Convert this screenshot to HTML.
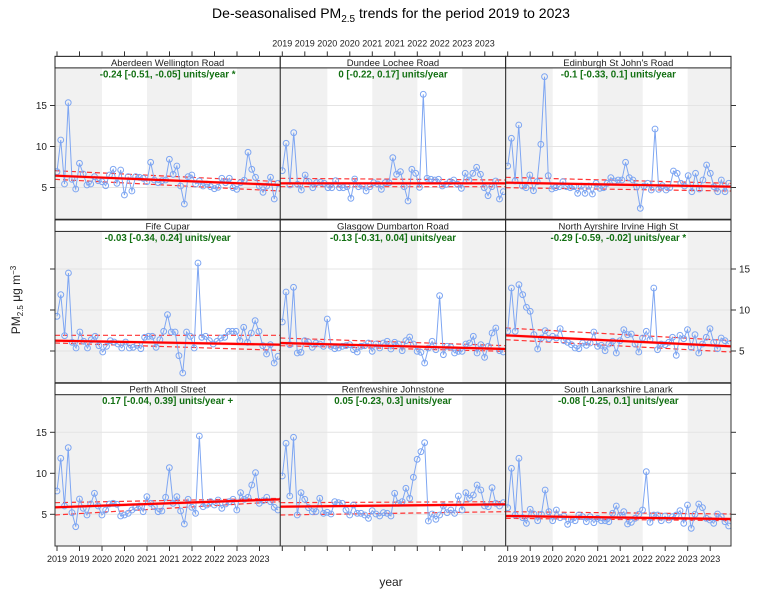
<!DOCTYPE html>
<html><head><meta charset="utf-8"><style>
html,body{margin:0;padding:0;background:#fff;}
svg{display:block;font-family:"Liberation Sans",sans-serif;}
</style></head><body>
<svg id="s" width="770" height="600" xmlns="http://www.w3.org/2000/svg"></svg>
<script>
const S=document.getElementById('s');let h='';
const colL=[55,280.3,505.7],colR=[280.3,505.7,731];
const rowZero=[228.5,392,555.3];
const names=[["Aberdeen Wellington Road","-0.24 [-0.51, -0.05] units/year *"],["Dundee Lochee Road","0 [-0.22, 0.17] units/year"],["Edinburgh St John's Road","-0.1 [-0.33, 0.1] units/year"],
["Fife Cupar","-0.03 [-0.34, 0.24] units/year"],["Glasgow Dumbarton Road","-0.13 [-0.31, 0.04] units/year"],["North Ayrshire Irvine High St","-0.29 [-0.59, -0.02] units/year *"],
["Perth Atholl Street","0.17 [-0.04, 0.39] units/year +"],["Renfrewshire Johnstone","0.05 [-0.23, 0.3] units/year"],["South Lanarkshire Lanark","-0.08 [-0.25, 0.1] units/year"]];
const D=[
[30,[425,330,462,218,448,477,400,432,465,462,440,452,455,467,435,418,460,420,495,440,483,440,442,445,455,397,450,458,452,450,388,433,408,468,522,440,435,462,453,468,462,470,476,472,445,458,445,473,478,458,451,367,418,442,468,487,468,442,507,460]],
[55,[347,265,390,233,388,405,360,380,398,383,382,385,398,398,377,398,398,395,430,372,395,393,408,395,383,387,403,383,383,308,358,350,395,438,343,355,397,118,370,373,375,373,393,388,380,375,388,400,355,375,355,337,358,398,422,395,378,432,410]],
[55,[333,250,378,210,393,398,360,407,380,268,65,362,402,398,395,380,395,398,395,415,393,415,393,417,385,400,398,385,368,378,375,375,322,368,375,395,460,393,385,405,222,403,392,405,398,348,355,385,393,362,410,355,402,375,330,355,395,410,375,410,385]],
[218,[295,230,353,165,373,390,342,370,390,365,355,383,402,385,368,372,378,390,372,390,388,382,392,358,355,355,388,365,340,290,342,342,413,465,342,355,390,135,358,355,368,378,370,360,358,340,340,340,368,328,373,345,308,340,383,408,380,435,415]],
[218,[312,222,380,208,405,403,368,372,388,375,378,385,303,385,392,390,385,383,380,395,402,385,383,375,400,378,390,375,370,393,373,378,398,368,357,378,400,403,435,390,370,395,233,410,385,387,405,400,400,378,375,355,405,380,418,385,345,330,398,402]],
[218,[340,210,340,200,230,268,280,350,393,360,338,362,355,360,332,368,373,380,390,392,375,382,375,342,385,382,398,378,370,405,368,335,350,348,378,402,360,340,365,210,395,378,380,373,358,412,352,362,335,388,350,405,378,358,332,373,392,360,368,378]],
[380,[333,235,378,203,398,440,357,385,405,372,340,378,405,390,372,370,373,408,405,400,390,383,378,395,350,370,380,395,393,352,263,370,350,393,432,358,382,400,168,380,375,365,375,360,385,372,365,358,390,338,358,352,315,278,370,362,352,365,382,390]],
[380,[288,190,348,172,405,338,358,383,395,395,355,400,397,402,365,368,370,390,405,375,400,400,405,415,392,402,408,398,400,408,340,370,365,325,355,292,238,215,188,423,402,418,405,378,398,390,400,348,390,338,355,345,315,330,378,380,323,370,378,368]],
[360,[443,325,465,295,473,490,448,462,482,463,390,455,482,450,473,468,493,478,482,465,470,485,470,488,475,482,482,485,460,438,468,455,492,487,475,463,450,335,487,465,465,482,468,480,470,465,452,490,435,505,463,432,443,475,480,490,462,470,485,498]]];
const T=[[30,437,465,422,455,448,483],[55,385,385,370,375,395,395],[55,383,395,367,385,398,408],
[218,368,380,352,352,375,397],[218,375,393,360,383,383,400],[218,352,385,330,368,365,402],
[380,382,358,368,355,405,365],[380,380,373,368,365,405,395],[360,468,477,455,462,475,482]];
h+=`<text x="391" y="18" font-size="14" text-anchor="middle">De-seasonalised PM<tspan font-size="10" dy="4">2.5</tspan><tspan dy="-4"> trends for the period 2019 to 2023</tspan></text>`;
const yrs=["2019","2019","2020","2020","2021","2021","2022","2022","2023","2023"];
for(let p=0;p<9;p++){
 const r=Math.floor(p/3),c=p%3,L=colL[c],R=colR[c],z=rowZero[r];
 const top=z-160.6,bot=z-9.3,st=top-11.5;
 h+=`<svg x="${L}" y="${top}" width="${R-L}" height="${bot-top}" overflow="hidden"><g transform="translate(${-L},${-top})">`;
 for(let k=0;k<3;k++){h+=`<rect x="${k==0?L:L+2+k*90}" y="${top}" width="${k==0?47:45}" height="${bot-top}" fill="#f1f1f1"/>`;}
 for(const v of [5,10,15]){const y=z-v*8.2;h+=`<line x1="${L}" x2="${R}" y1="${y}" y2="${y}" stroke="#e4e4e4" stroke-width="1"/>`;}
 const t=T[p],f=q=>t[0]+q/3;
 h+=`<polygon points="${L},${f(t[1])-1.5} ${R},${f(t[2])-1.5} ${R},${f(t[2])+1.5} ${L},${f(t[1])+1.5}" fill="#ff9a9a" opacity="0.6"/>`;
 h+=`<line x1="${L}" y1="${f(t[3])}" x2="${R}" y2="${f(t[4])}" stroke="#f33" stroke-width="1.2" stroke-dasharray="5,3"/>`;
 h+=`<line x1="${L}" y1="${f(t[5])}" x2="${R}" y2="${f(t[6])}" stroke="#f33" stroke-width="1.2" stroke-dasharray="5,3"/>`;
 const d=D[p],n=d[1].length,pts=d[1].map((q,i)=>[L+2+i*(221/(n-1)),d[0]+q/3]);
 h+=`<polyline points="${pts.map(a=>a.join(',')).join(' ')}" fill="none" stroke="#7ea6f2" stroke-width="1"/>`;
 for(const a of pts)h+=`<circle cx="${a[0]}" cy="${a[1]}" r="2.9" fill="none" stroke="#7ea6f2" stroke-width="1"/>`;
 h+=`<line x1="${L}" y1="${f(t[1])}" x2="${R}" y2="${f(t[2])}" stroke="#f00" stroke-width="2.2"/>`;
 h+=`</g></svg>`;
 h+=`<rect x="${L}" y="${st}" width="${R-L}" height="${bot-st}" fill="none" stroke="#333" stroke-width="1"/>`;
 h+=`<rect x="${L}" y="${st}" width="${R-L}" height="11.5" fill="#fff" stroke="#222" stroke-width="1"/>`;
 h+=`<text x="${(L+R)/2}" y="${st+9.5}" font-size="9.5" text-anchor="middle" fill="#222">${names[p][0]}</text>`;
 h+=`<text x="${(L+R)/2}" y="${top+9.5}" font-size="9.7" font-weight="bold" text-anchor="middle" fill="#137013">${names[p][1]}</text>`;
 for(const v of [5,10,15]){const y=z-v*8.2;
  if(c==0){h+=`<line x1="${L-5}" x2="${L}" y1="${y}" y2="${y}" stroke="#333"/>`;if(r!=1)h+=`<text x="${L-8}" y="${y+3.5}" font-size="10" text-anchor="end" fill="#222">${v}</text>`;}
  if(c==2){h+=`<line x1="${R}" x2="${R+5}" y1="${y}" y2="${y}" stroke="#333"/>`;if(r==1)h+=`<text x="${R+8}" y="${y+3.5}" font-size="10" fill="#222">${v}</text>`;}
 }
 if(r==0){for(let k=0;k<10;k++){const x=L+2+k*22.5;h+=`<line x1="${x}" x2="${x}" y1="${st-5}" y2="${st}" stroke="#333"/>`;if(c==1)h+=`<text x="${x}" y="${st-10}" font-size="9" text-anchor="middle" fill="#222">${yrs[k]}</text>`;}}
 if(r==2){for(let k=0;k<10;k++){const x=L+2+k*22.5;h+=`<line x1="${x}" x2="${x}" y1="${bot}" y2="${bot+5}" stroke="#333"/>`;if(c!=1)h+=`<text x="${x}" y="${bot+16}" font-size="9" text-anchor="middle" fill="#222">${yrs[k]}</text>`;}}
}
h+=`<text x="391" y="586" font-size="12" text-anchor="middle" fill="#222">year</text>`;
h+=`<text transform="translate(20,300) rotate(-90)" font-size="12" text-anchor="middle" fill="#222">PM<tspan font-size="8" dy="3">2.5</tspan><tspan dy="-3"> μg m</tspan><tspan font-size="8" dy="-4">−3</tspan></text>`;
S.innerHTML=h;
</script>
</body></html>
